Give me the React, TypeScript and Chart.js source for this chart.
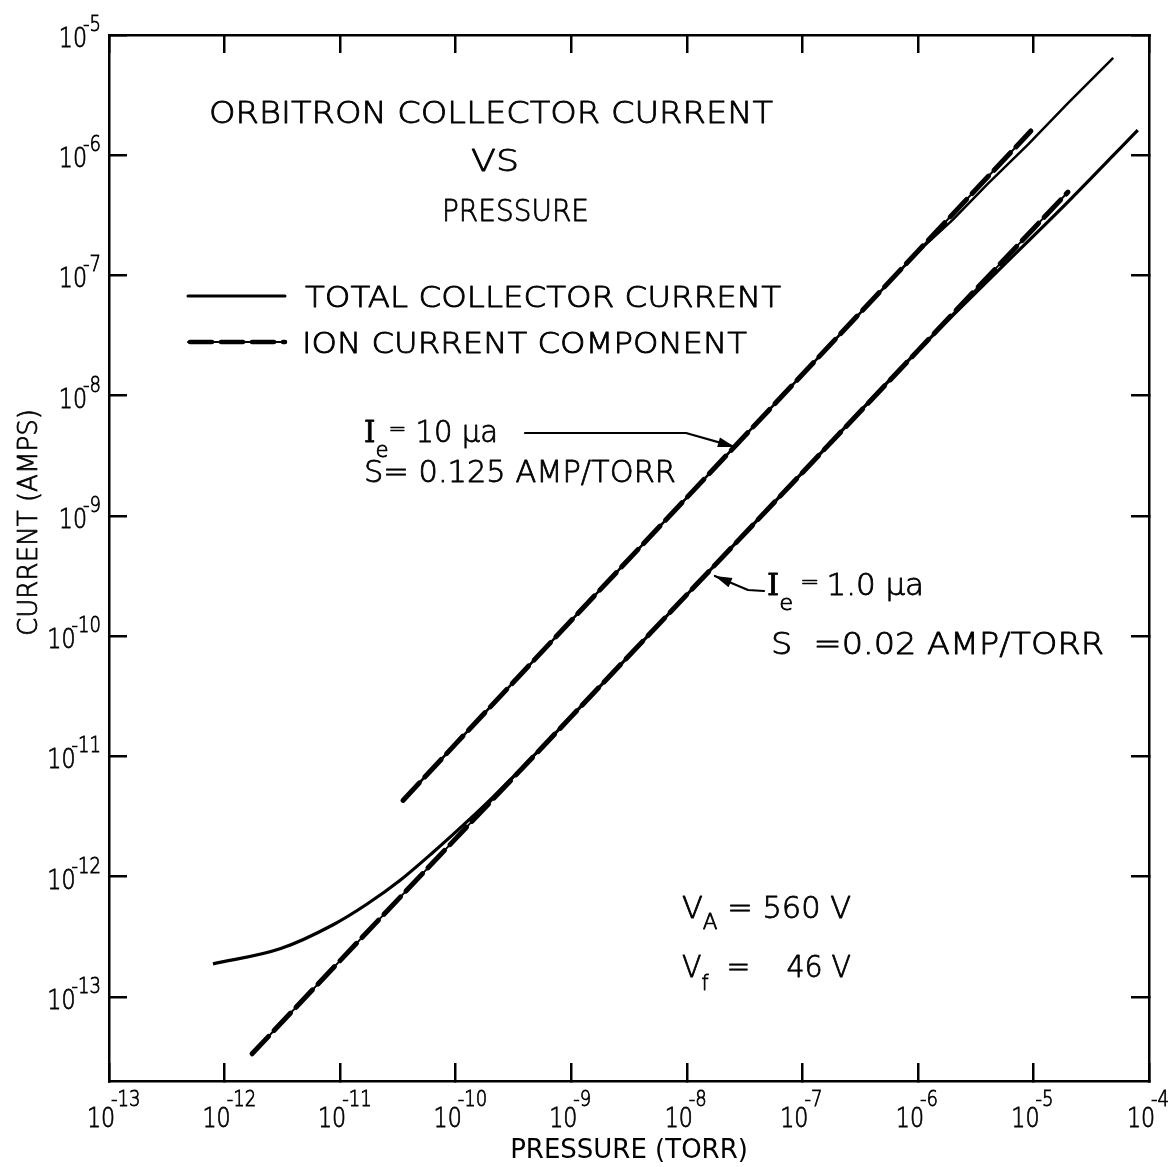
import React, { useEffect, useRef } from "react";
import { Chart, registerables } from "chart.js";

Chart.register(...registerables);

// ---- tick decades (exponents of 10) ----
const xDecades = [-13, -12, -11, -10, -9, -8, -7, -6, -5, -4];
const yDecades = [-13, -12, -11, -10, -9, -8, -7, -6, -5];

// ---- Ie = 10 µA, S = 0.125 A/Torr ----
const highTotalPressure = [3.5e-11, 1e-10, 1e-9, 1e-8, 1e-7, 1e-6, 2e-6, 4e-6, 9e-6, 2e-5, 4.9e-5];
const highTotalCurrent = [4.3e-12, 1.27e-11, 1.35e-10, 1.42e-9, 1.5e-8, 1.57e-7, 2.9e-7, 5.74e-7, 1.23e-6, 2.72e-6, 6.44e-6];
const highIonPressure = [3.5e-11, 1e-10, 1e-9, 1e-8, 1e-7, 1e-6, 9.5e-6];
const highIonCurrent = [4.3e-12, 1.27e-11, 1.35e-10, 1.42e-9, 1.5e-8, 1.59e-7, 1.59e-6];

// ---- Ie = 1.0 µA, S = 0.02 A/Torr ----
const lowTotalPressure = [7.94e-13, 3.02e-12, 8.71e-12, 1.7e-11, 3.31e-11, 6.31e-11, 1.26e-10, 2.09e-10, 1e-9, 1e-8, 1e-7, 1e-6, 4.83e-6, 1.95e-5, 8.0e-5];
const lowTotalCurrent = [1.88e-13, 2.51e-13, 3.98e-13, 5.89e-13, 9.33e-13, 1.58e-12, 2.88e-12, 4.57e-12, 2.14e-11, 2.21e-10, 2.29e-9, 2.37e-8, 1.07e-7, 4.01e-7, 1.62e-6];
const lowIonPressure = [1.73e-12, 1e-11, 1e-10, 1e-9, 1e-8, 1e-7, 1e-6, 1e-5, 1.99e-5];
const lowIonCurrent = [3.36e-14, 2.0e-13, 2.07e-12, 2.14e-11, 2.21e-10, 2.29e-9, 2.37e-8, 2.45e-7, 4.94e-7];

// annotation arrow targets (pressure, current)
const highArrowTarget = [2.61e-8, 3.75e-9];
const lowArrowTarget = [1.75e-8, 3.17e-10];

const FONT = "'DejaVu Sans', sans-serif";
const SERIF = "'DejaVu Serif', serif";
const W = "200";
const STROKE = 0.8;

type Seg = { t: string; s: number; dy?: number; f?: string };

function drawSegs(ctx: CanvasRenderingContext2D, list: Seg[], x: number, y: number, width?: number) {
  const ws: number[] = [];
  let total = 0;
  list.forEach((g) => {
    ctx.font = `${W} ${g.s}px ${g.f || FONT}`;
    const w = ctx.measureText(g.t).width;
    ws.push(w);
    total += w;
  });
  const sx = width ? width / total : 1;
  ctx.save();
  ctx.translate(x, y);
  ctx.scale(sx, 1);
  ctx.lineWidth = STROKE;
  ctx.lineJoin = "round";
  let cx = 0;
  list.forEach((g, i) => {
    ctx.font = `${W} ${g.s}px ${g.f || FONT}`;
    ctx.fillText(g.t, cx, g.dy || 0);
    ctx.strokeText(g.t, cx, g.dy || 0);
    cx += ws[i];
  });
  ctx.restore();
}

function drawPow(ctx: CanvasRenderingContext2D, e: number, px: number, py: number, mode: "x" | "y") {
  const sx = 0.82;
  ctx.font = `${W} 27px ${FONT}`;
  const wb = ctx.measureText("10").width * sx;
  const exp = String(e);
  ctx.font = `${W} 22px ${FONT}`;
  const we = ctx.measureText(exp).width * sx;
  let left: number, baseMain: number, baseExp: number;
  if (mode === "x") {
    left = px - 8 - wb / 2;
    baseMain = py + 46;
    baseExp = py + 25;
  } else {
    left = px - 8 - (wb + we - 4);
    baseMain = py + 12;
    baseExp = py - 4;
  }
  ctx.save();
  ctx.translate(left, 0);
  ctx.scale(sx, 1);
  ctx.lineWidth = STROKE;
  ctx.font = `${W} 27px ${FONT}`;
  ctx.fillText("10", 0, baseMain);
  ctx.strokeText("10", 0, baseMain);
  ctx.font = `${W} 22px ${FONT}`;
  ctx.fillText(exp, (wb - 4) / sx, baseExp);
  ctx.strokeText(exp, (wb - 4) / sx, baseExp);
  ctx.restore();
}

function drawArrow(ctx: CanvasRenderingContext2D, pts: number[][]) {
  ctx.save();
  ctx.lineWidth = 2.2;
  ctx.lineJoin = "round";
  ctx.beginPath();
  ctx.moveTo(pts[0][0], pts[0][1]);
  for (let i = 1; i < pts.length; i++) ctx.lineTo(pts[i][0], pts[i][1]);
  ctx.stroke();
  const [x1, y1] = pts[pts.length - 2];
  const [x2, y2] = pts[pts.length - 1];
  const a = Math.atan2(y2 - y1, x2 - x1);
  const L = 17, H = 5;
  ctx.beginPath();
  ctx.moveTo(x2, y2);
  ctx.lineTo(x2 - L * Math.cos(a) + H * Math.sin(a), y2 - L * Math.sin(a) - H * Math.cos(a));
  ctx.lineTo(x2 - L * Math.cos(a) - H * Math.sin(a), y2 - L * Math.sin(a) + H * Math.cos(a));
  ctx.closePath();
  ctx.fill();
  ctx.restore();
}

const overlay = {
  id: "overlay",
  afterDraw(chart: any) {
    const ctx: CanvasRenderingContext2D = chart.ctx;
    const xs = chart.scales.x;
    const ys = chart.scales.y;
    ctx.save();
    ctx.fillStyle = "#000";
    ctx.strokeStyle = "#000";
    ctx.textAlign = "left";
    ctx.textBaseline = "alphabetic";

    // tick labels with superscripts
    xDecades.forEach((e) => drawPow(ctx, e, xs.getPixelForValue(Math.pow(10, e)), xs.top, "x"));
    yDecades.forEach((e) => drawPow(ctx, e, ys.right, ys.getPixelForValue(Math.pow(10, e)), "y"));

    // y-axis title
    ctx.save();
    ctx.translate(37, 523);
    ctx.rotate(-Math.PI / 2);
    drawSegs(ctx, [{ t: "CURRENT (AMPS)", s: 27 }], -113, 0, 227);
    ctx.restore();

    // chart title
    drawSegs(ctx, [{ t: "ORBITRON COLLECTOR CURRENT", s: 31 }], 209, 123, 564);
    drawSegs(ctx, [{ t: "VS", s: 31 }], 471, 171, 48);
    drawSegs(ctx, [{ t: "PRESSURE", s: 31 }], 442, 221, 147);

    // legend
    ctx.lineCap = "round";
    ctx.lineWidth = 3;
    ctx.beginPath();
    ctx.moveTo(188, 296);
    ctx.lineTo(285, 296);
    ctx.stroke();
    ctx.lineWidth = 2;
    ctx.beginPath();
    ctx.moveTo(188, 342);
    ctx.lineTo(285, 342);
    ctx.stroke();
    ctx.lineWidth = 4.5;
    ctx.setLineDash([22, 9]);
    ctx.beginPath();
    ctx.moveTo(190, 342);
    ctx.lineTo(285, 342);
    ctx.stroke();
    ctx.setLineDash([]);
    drawSegs(ctx, [{ t: "TOTAL COLLECTOR CURRENT", s: 29 }], 305, 307, 476);
    drawSegs(ctx, [{ t: "ION CURRENT COMPONENT", s: 29 }], 302, 353, 445);

    // Ie = 10 µa annotation
    drawSegs(ctx, [
      { t: "I", s: 30, f: SERIF },
      { t: "e", s: 22, dy: 15 },
      { t: "=", s: 22, dy: -6 },
      { t: " 10 μa", s: 30 },
    ], 364, 442, 134);
    drawSegs(ctx, [{ t: "S= 0.125 AMP/TORR", s: 30 }], 364, 482, 312);
    const hx = xs.getPixelForValue(highArrowTarget[0]);
    const hy = ys.getPixelForValue(highArrowTarget[1]);
    drawArrow(ctx, [[525, 433], [686, 433], [hx, hy]]);

    // Ie = 1.0 µa annotation
    drawSegs(ctx, [
      { t: "I", s: 30, f: SERIF },
      { t: "e", s: 22, dy: 15 },
      { t: " = ", s: 22, dy: -6 },
      { t: "1.0 μa", s: 30 },
    ], 767, 595, 157);
    drawSegs(ctx, [{ t: "S  =0.02 AMP/TORR", s: 30 }], 771, 654, 333);
    const lx = xs.getPixelForValue(lowArrowTarget[0]);
    const ly = ys.getPixelForValue(lowArrowTarget[1]);
    drawArrow(ctx, [[764, 591], [748, 590], [lx, ly]]);

    // operating voltages
    drawSegs(ctx, [
      { t: "V", s: 31 },
      { t: "A", s: 22, dy: 11 },
      { t: " = 560 V", s: 31 },
    ], 682, 918, 169);
    drawSegs(ctx, [
      { t: "V", s: 31 },
      { t: "f", s: 22, dy: 13 },
      { t: "  =    46 V", s: 31 },
    ], 682, 977, 169);

    ctx.restore();
  },
};

function pts(px: number[], py: number[]) {
  return px.map((p, i) => ({ x: p, y: py[i] }));
}

export default function App() {
  const ref = useRef<HTMLCanvasElement | null>(null);

  useEffect(() => {
    document.body.style.margin = "0";
    if (!ref.current) return;

    const axisGrid = {
      drawOnChartArea: false,
      drawTicks: true,
      tickLength: -18,
      color: "#000",
      lineWidth: 2.5,
    };
    const axisBorder = { display: true, color: "#000", width: 2.5 };
    const decadeTicks = (list: number[]) => (scale: any) => {
      scale.ticks = list.map((e) => ({ value: Math.pow(10, e) }));
    };

    const thin = { borderColor: "#000", backgroundColor: "#000", pointRadius: 0, fill: false };

    const chart = new Chart(ref.current, {
      type: "line",
      data: {
        datasets: [
          { ...thin, label: "Total 10 µa", data: pts(highTotalPressure, highTotalCurrent), borderWidth: 2.5 },
          { ...thin, label: "Ion 10 µa (trace)", data: pts(highIonPressure, highIonCurrent), borderWidth: 2 },
          { ...thin, label: "Ion 10 µa", data: pts(highIonPressure, highIonCurrent), borderWidth: 5, borderDash: [24, 8], borderCapStyle: "round" },
          { ...thin, label: "Total 1.0 µa", data: pts(lowTotalPressure, lowTotalCurrent), borderWidth: 3.2, cubicInterpolationMode: "monotone" },
          { ...thin, label: "Ion 1.0 µa (trace)", data: pts(lowIonPressure, lowIonCurrent), borderWidth: 2 },
          { ...thin, label: "Ion 1.0 µa", data: pts(lowIonPressure, lowIonCurrent), borderWidth: 5, borderDash: [24, 8], borderCapStyle: "round" },
        ] as any,
      },
      options: {
        animation: false,
        responsive: false,
        devicePixelRatio: 1,
        parsing: false as any,
        layout: { padding: 0 },
        plugins: { legend: { display: false }, tooltip: { enabled: false }, title: { display: false } },
        scales: {
          x: {
            type: "logarithmic",
            position: "bottom",
            min: 1e-13,
            max: 1e-4,
            afterBuildTicks: decadeTicks(xDecades),
            afterFit: (s: any) => { s.height = 86; },
            ticks: { display: false },
            grid: axisGrid,
            border: axisBorder,
            title: {
              display: true,
              text: "PRESSURE (TORR)",
              color: "#000",
              font: { family: "'DejaVu Sans', sans-serif", size: 26, weight: "400" },
              padding: { top: 0, bottom: 0 },
            },
          },
          x2: {
            type: "logarithmic",
            position: "top",
            min: 1e-13,
            max: 1e-4,
            afterBuildTicks: decadeTicks(xDecades),
            afterFit: (s: any) => { s.height = 35; },
            ticks: { display: false },
            grid: axisGrid,
            border: axisBorder,
          },
          y: {
            type: "logarithmic",
            position: "left",
            min: Math.pow(10, -13.7),
            max: 1e-5,
            afterBuildTicks: decadeTicks(yDecades),
            afterFit: (s: any) => { s.width = 109; },
            ticks: { display: false },
            grid: axisGrid,
            border: axisBorder,
          },
          y2: {
            type: "logarithmic",
            position: "right",
            min: Math.pow(10, -13.7),
            max: 1e-5,
            afterBuildTicks: decadeTicks(yDecades),
            afterFit: (s: any) => { s.width = 21; },
            ticks: { display: false },
            grid: axisGrid,
            border: axisBorder,
          },
        } as any,
      },
      plugins: [overlay],
    });

    return () => chart.destroy();
  }, []);

  return (
    <div style={{ width: 1170, height: 1167, background: "#fff" }}>
      <canvas ref={ref} width={1170} height={1167} style={{ display: "block" }} />
    </div>
  );
}
